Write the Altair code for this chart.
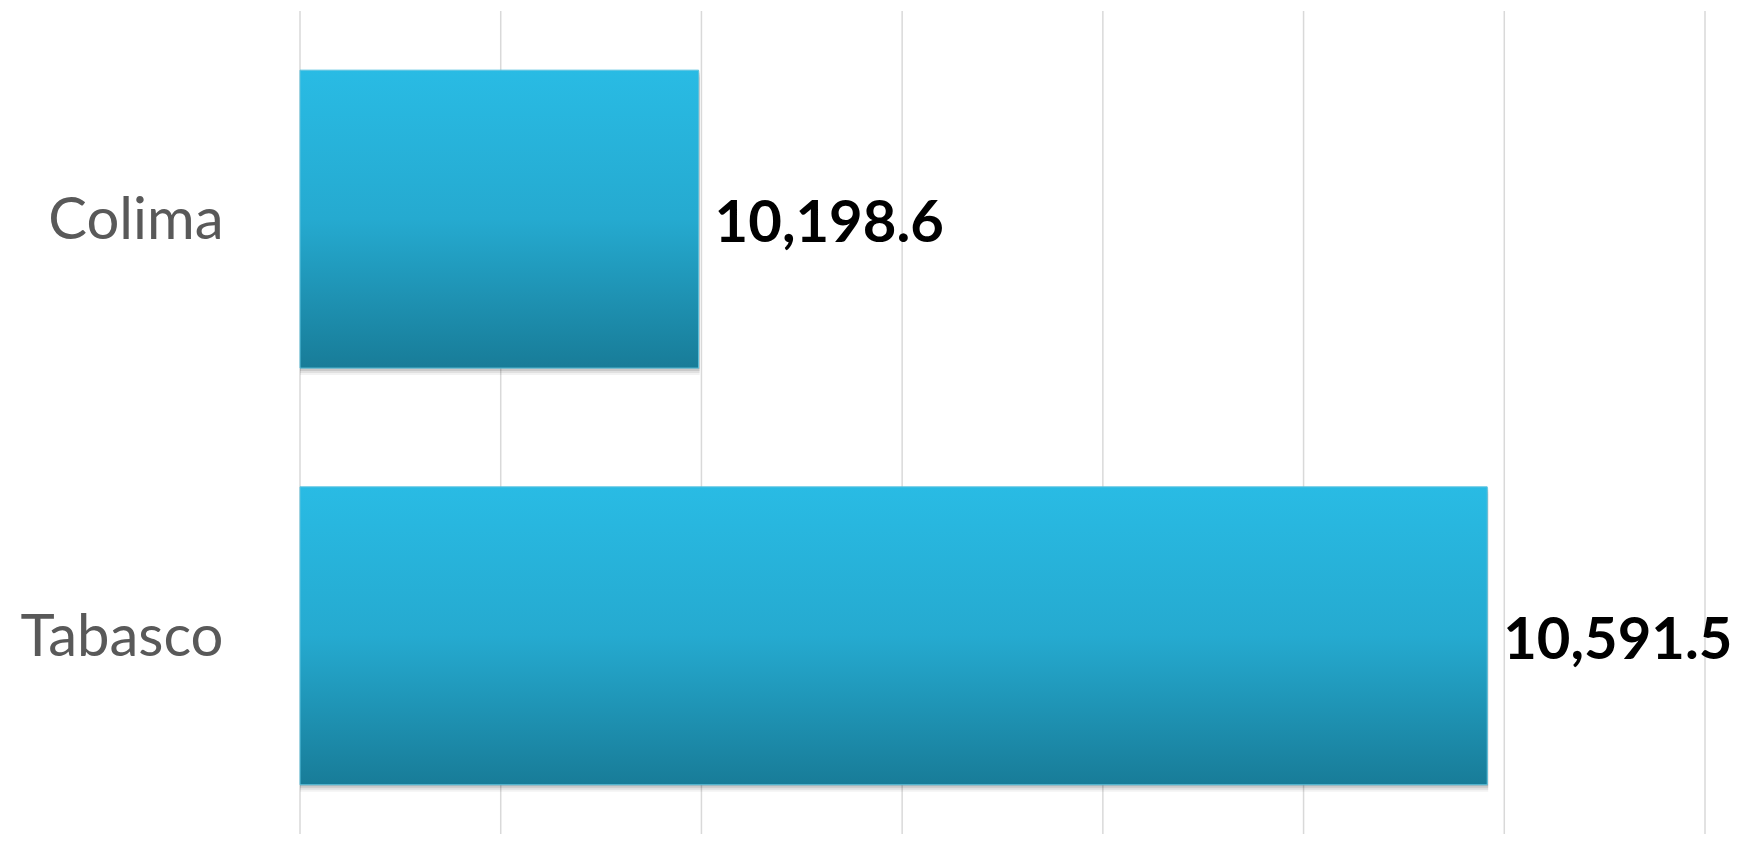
import altair as alt
import pandas as pd

states = ["Colima", "Tabasco"]
values = [10198.6, 10591.5]
grid_values = [10000, 10100, 10200, 10300, 10400, 10500, 10600, 10700]
axis_start = 10000

df = pd.DataFrame({"estado": states, "valor": values})
grid_df = pd.DataFrame({"g": grid_values})

grad = alt.Gradient(
    gradient="linear",
    stops=[
        alt.GradientStop(color="#29BBE4", offset=0),
        alt.GradientStop(color="#25AAD0", offset=0.5),
        alt.GradientStop(color="#187C98", offset=1),
    ],
    x1=0, x2=0, y1=0, y2=1,
)

xscale = alt.Scale(domain=[10000, 10700], zero=False, nice=False)
x = alt.X("valor:Q", scale=xscale, axis=None)
y = alt.Y(
    "estado:N",
    sort=states,
    scale=alt.Scale(paddingInner=0.285, paddingOuter=0.13, align=0.546),
    axis=alt.Axis(labelFontSize=58, labelFont="Lato", labelColor="#595959", labelLimit=0,
                  ticks=False, domain=False, grid=False, labelPadding=77, labelOffset=3,
                  title=None),
)
x2 = alt.X2(datum=axis_start)

grid = alt.Chart(grid_df).mark_rule(color="#D9D9D9", strokeWidth=1.5).encode(
    x=alt.X("g:Q", scale=xscale, axis=None)
)

shadows = [
    alt.Chart(df).mark_bar(fill="#000000", opacity=op, yOffset=off, xOffset=1).encode(x=x, x2=x2, y=y)
    for off, op in [(7, 0.05), (5, 0.07), (3, 0.10), (1, 0.12)]
]

bars = alt.Chart(df).mark_bar(fill=grad, stroke="#5CC3DF", strokeWidth=1).encode(x=x, x2=x2, y=y)

text = alt.Chart(df).mark_text(
    align="left", baseline="middle", dx=16, dy=6, font="Lato", fontWeight="bold",
    fontSize=58, color="#000000",
).encode(x=x, y=y, text=alt.Text("valor:Q", format=",.1f"))

chart = (
    alt.layer(grid, *shadows, bars, text)
    .properties(
        width=1405, height=823,
        autosize=alt.AutoSizeParams(type="none"),
        padding={"left": 292, "top": 3, "right": 29, "bottom": 0},
        view=alt.ViewBackground(strokeWidth=0, strokeOpacity=0, fill="white"),
    )
    .configure_view(strokeWidth=0, strokeOpacity=0)
    .configure(background="white")
)

chart.save("out.html", embed_options={"renderer": "svg", "actions": False})
